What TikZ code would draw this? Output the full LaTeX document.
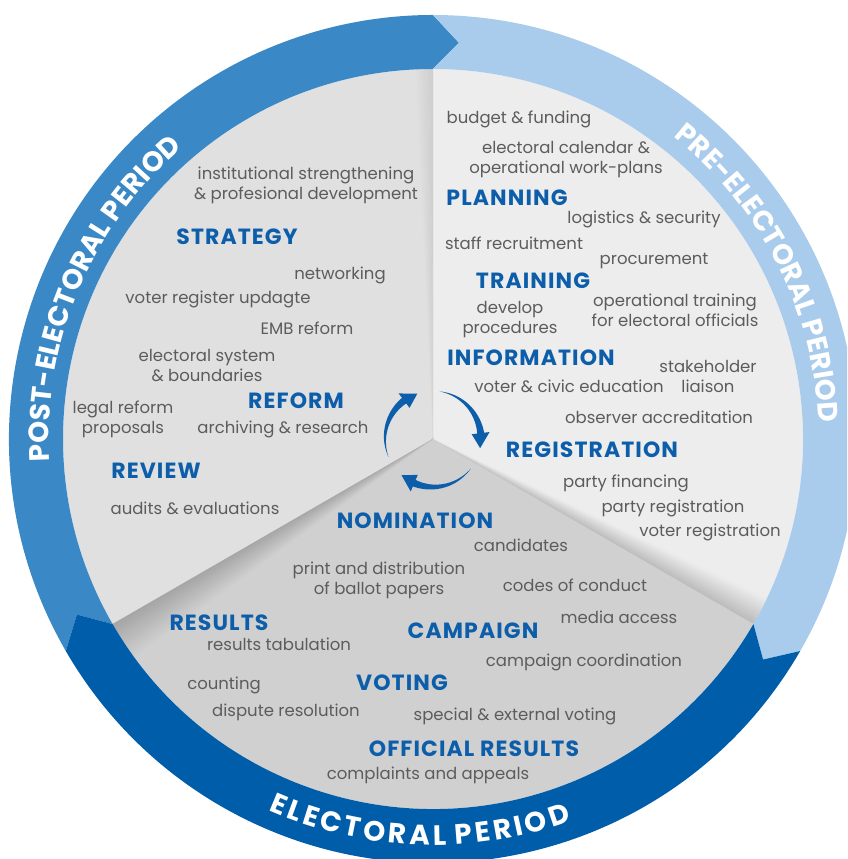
\documentclass[tikz,border=0pt]{standalone}
\usepackage{fontspec}
\setmainfont{Poppins}
\usetikzlibrary{decorations.text}
\definecolor{ringdark}{HTML}{005DAA}
\definecolor{ringmid}{HTML}{3A88C6}
\definecolor{ringlight}{HTML}{A9CBEC}
\definecolor{headblue}{HTML}{0D5EAA}
\definecolor{itemgray}{HTML}{5C5C5C}
\definecolor{pregray}{HTML}{EDEDED}
\definecolor{postgray}{HTML}{E0E0E0}
\definecolor{elecgray}{HTML}{D0D0D0}
\begin{document}
\begin{tikzpicture}[x=1pt,y=1pt]
	\tikzstyle{item}=[text=itemgray,font=\fontsize{16.5}{20}\selectfont,align=center,inner sep=0pt]
	\tikzstyle{head}=[text=headblue,font=\bfseries\fontsize{22}{24}\selectfont\addfontfeature{LetterSpace=5},inner sep=0pt]
	\tikzstyle{cycle}=[fill=headblue]
	\tikzstyle{ringtext}=[decorate,decoration={text along path,text align=center,text color=white}]

	\useasboundingbox (0,0) rectangle (847,859);
	\fill[white] (0,0) rectangle (847,859);
	\clip (0,0) rectangle (847,859);

	\begin{scope}[shift={(433,420)}]
		% three sectors
		\fill[pregray] (0,0) -- (-30:370) arc[start angle=-30, end angle=90, radius=370] -- cycle;
		\fill[postgray] (0,0) -- (90:370) arc[start angle=90, end angle=210, radius=370] -- cycle;
		\fill[elecgray] (0,0) -- (210:370) arc[start angle=210, end angle=330, radius=370] -- cycle;

		% folds along the borders
		\foreach \i [evaluate=\i as \p using 19-0.5*\i, evaluate=\i as \a using 90+0.2*\i] in {0,...,14}
			\fill[black!\p] (0,0) -- (\a:370) arc[start angle=\a, end angle=\a+0.25, radius=370] -- cycle;
		\foreach \i [evaluate=\i as \p using 35-1.1*\i, evaluate=\i as \a using 210+0.4*\i] in {0,...,14}
			\fill[black!\p] (0,0) -- (\a:370) arc[start angle=\a, end angle=\a+0.45, radius=370] -- cycle;
		\foreach \i [evaluate=\i as \p using 26-1.3*\i, evaluate=\i as \a using 330+0.3*\i] in {0,...,14}
			\fill[black!\p] (0,0) -- (\a:370) arc[start angle=\a, end angle=\a+0.35, radius=370] -- cycle;

		% ring of periods
		\foreach \s/\e/\col in {210/90/ringmid, 90/-30/ringlight, -30/-150/ringdark}
			\fill[\col] (\s:424) arc[start angle=\s, end angle=\e, radius=424] -- ({\e-3.75}:397)
				-- (\e:370) arc[start angle=\e, end angle=\s, radius=370] -- ({\s-3.75}:397) -- cycle;

		\path[ringtext,decoration={text={|\bfseries\fontsize{28}{30}\selectfont|POST-ELECTORAL PERIOD}}]
			(200:384) arc[start angle=200, end angle=114, radius=384];
		\path[ringtext,decoration={text={|\bfseries\fontsize{28}{30}\selectfont|PRE-ELECTORAL PERIOD}}]
			(70:386) arc[start angle=70, end angle=-16, radius=386];
		\path[ringtext,decoration={text={|\bfseries\fontsize{28}{30}\selectfont|{E\kern3.4pt}{L\kern3.4pt}{E\kern3.4pt}{C\kern3.4pt}{T\kern3.4pt}{O\kern3.4pt}{R\kern3.4pt}{A\kern3.4pt}{L\kern3.4pt} {P\kern3.4pt}{E\kern3.4pt}{R\kern3.4pt}{I\kern3.4pt}{O\kern3.4pt}D}}]
			(225:406) arc[start angle=225, end angle=311, radius=406];

		% cycle arrows
		\foreach \a in {202,82,-38}
			\fill[cycle] plot[domain=0:75, samples=25] ({\a-\x}:{48+3.5*\x/75})
				-- ({\a-75}:57) -- ({\a-93}:48) -- ({\a-75}:39)
				-- plot[domain=75:0, samples=25] ({\a-\x}:{48-3.5*\x/75}) -- cycle;
	\end{scope}

	% pre-electoral period
	\node [item] (budget) at (519,740) {budget \& funding};
	\node [item] (calendar) at (566,699) {electoral calendar \&\\operational work-plans};
	\node [head] (planning) at (507,661) {PLANNING};
	\node [item] (logistics) at (644,640) {logistics \& security};
	\node [item] (staff) at (514,616) {staff recruitment};
	\node [item] (procurement) at (654,598) {procurement};
	\node [head] (training) at (533,578) {TRAINING};
	\node [item] (develop) at (510,539) {develop\\procedures};
	\node [item] (optraining) at (675,549) {operational training\\for electoral officials};
	\node [head] (information) at (531,501) {INFORMATION};
	\node [item] (stakeholder) at (708,483) {stakeholder\\liaison};
	\node [item] (civic) at (569,473) {voter \& civic education};
	\node [item] (observer) at (659,442) {observer accreditation};
	\node [head] (registration) at (592,409) {REGISTRATION};
	\node [item] (financing) at (626,376) {party financing};
	\node [item] (partyreg) at (673,351) {party registration};
	\node [item] (voterreg) at (710,327) {voter registration};

	% post-electoral period
	\node [item] (institutional) at (306,674) {institutional strengthening\\\& profesional development};
	\node [head] (strategy) at (237,622) {STRATEGY};
	\node [item] (networking) at (340,584) {networking};
	\node [item] (register) at (218,560) {voter register updagte};
	\node [item] (emb) at (307,531) {EMB reform};
	\node [item] (system) at (207,493) {electoral system\\\& boundaries};
	\node [head] (reform) at (296,458) {REFORM};
	\node [item] (legal) at (123,440) {legal reform\\proposals};
	\node [item] (archiving) at (283,430) {archiving \& research};
	\node [head] (review) at (156,388) {REVIEW};
	\node [item] (audits) at (195,351) {audits \& evaluations};

	% electoral period
	\node [head] (nomination) at (415,338) {NOMINATION};
	\node [item] (candidates) at (521,314) {candidates};
	\node [item] (ballots) at (379,279) {print and distribution\\of ballot papers};
	\node [item] (codes) at (575,274) {codes of conduct};
	\node [item] (media) at (619,242) {media access};
	\node [head] (results) at (219,236) {RESULTS};
	\node [item] (tabulation) at (279,215) {results tabulation};
	\node [head] (campaign) at (473,228) {CAMPAIGN};
	\node [item] (coordination) at (584,197) {campaign coordination};
	\node [item] (counting) at (224,174) {counting};
	\node [head] (voting) at (402,176) {VOTING};
	\node [item] (dispute) at (286,147) {dispute resolution};
	\node [item] (special) at (515,143) {special \& external voting};
	\node [head] (official) at (474,110) {OFFICIAL RESULTS};
	\node [item] (complaints) at (428,84) {complaints and appeals};
\end{tikzpicture}
\end{document}
